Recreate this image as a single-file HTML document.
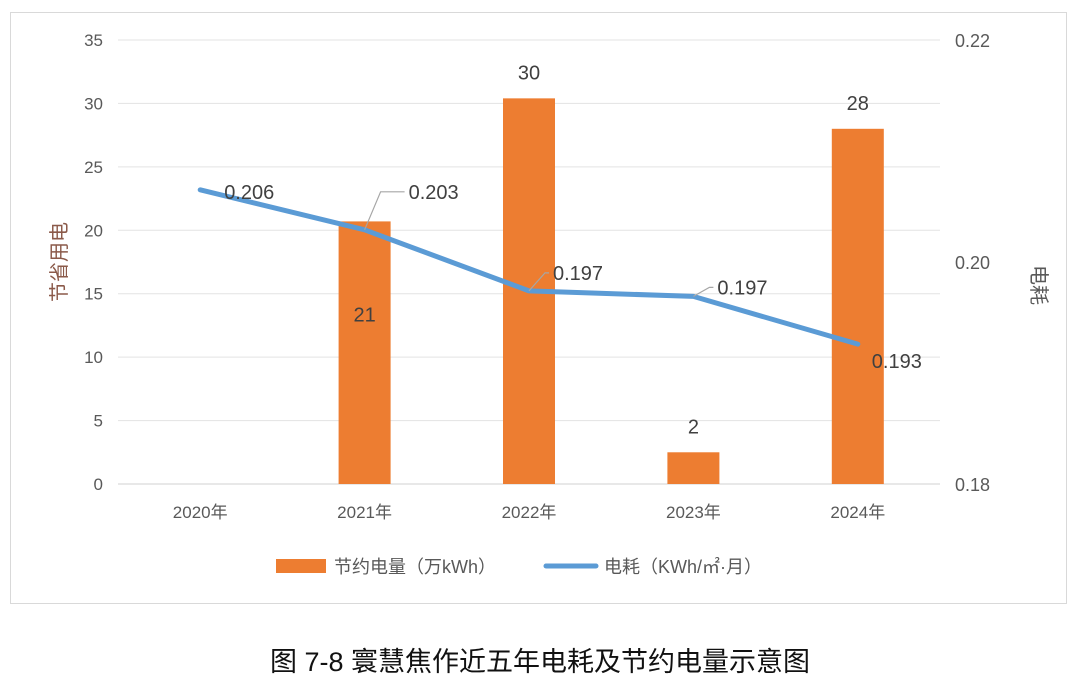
<!DOCTYPE html>
<html><head><meta charset="utf-8">
<style>
body{margin:0;background:#fff;width:1080px;height:692px;overflow:hidden;font-family:"Liberation Sans","Noto Sans CJK SC",sans-serif;}
#box{position:absolute;left:10px;top:12px;width:1055px;height:590px;border:1px solid #d9d9d9;}
#cap{position:absolute;left:0;top:640px;width:1080px;text-align:center;font-size:27px;color:#111;font-family:"Liberation Sans","Noto Sans CJK SC",sans-serif;}
</style></head><body>
<div id="box"></div>
<svg id="chart" width="1080" height="692" style="position:absolute;left:0;top:0"></svg>
<div id="cap">图 7-8  寰慧焦作近五年电耗及节约电量示意图</div>
<script>
const categories=["2020年","2021年","2022年","2023年","2024年"];
const savedPower=[0,20.7,30.4,2.5,28.0];
const savedLabels=["","21","30","2","28"];
const consumption=[0.2065,0.2029,0.1974,0.1969,0.1926];
const consumptionLabels=["0.206","0.203","0.197","0.197","0.193"];
const leftTicks=[0,5,10,15,20,25,30,35];
const rightTicks=["0.18","0.20","0.22"];
const NS="http://www.w3.org/2000/svg";
const svg=document.getElementById('chart');
const x0=118,x1=940,yb=484,yt=40;
const band=(x1-x0)/categories.length;
const xc=i=>x0+band*(i+0.5);
const yl=v=>yb-(v/35)*(yb-yt);
const yr=v=>yb-((v-0.18)/0.04)*(yb-yt);
function mk(t,a){const e=document.createElementNS(NS,t);for(const k in a)e.setAttribute(k,a[k]);svg.appendChild(e);return e;}
leftTicks.forEach(v=>{
 const g=mk('line',{x1:x0,x2:x1,y1:yl(v),y2:yl(v),stroke:v===0?'#d0d0d0':'#e3e3e3','stroke-width':1});
 
 
 const t=mk('text',{x:103,y:yl(v)+6,'text-anchor':'end','font-size':17,fill:'#595959'});t.textContent=v;
 
 
});
rightTicks.forEach(s=>{
 const t=mk('text',{x:955,y:yr(parseFloat(s))+7,'font-size':18,fill:'#595959'});t.textContent=s;
 
 
});
categories.forEach((c,i)=>{
 const t=mk('text',{x:xc(i),y:518,'text-anchor':'middle','font-size':17,fill:'#595959'});t.textContent=c;
 
 
});
savedPower.forEach((v,i)=>{
 if(v<=0)return;
 const r=mk('rect',{x:xc(i)-26,y:yl(v),width:52,height:yb-yl(v),fill:'#ed7d31'});
 
 
 const inside=i===1;
 const t=mk('text',{x:xc(i),y:inside?yl(v)+100:yl(v)-19,'text-anchor':'middle','font-size':20,fill:'#404040'});t.textContent=savedLabels[i];
 
 
});
const pts=consumption.map((v,i)=>[xc(i),yr(v)]);
const p=mk('polyline',{points:pts.map(q=>q.join(',')).join(' '),fill:'none',stroke:'#5b9bd5','stroke-width':5,'stroke-linecap':'round','stroke-linejoin':'round'});


const offs=[[24,-2,false],[44,-42,true],[24,-22,true],[24,-13,true],[14,13,false]];
pts.forEach((q,i)=>{
 const o=offs[i];
 if(o[2]){const l=mk('polyline',{points:`${q[0]},${q[1]} ${q[0]+16},${q[1]+o[1]+4} ${q[0]+o[0]-4},${q[1]+o[1]+4}`,fill:'none',stroke:'#a6a6a6','stroke-width':1.2});
  
  }
 const t=mk('text',{x:q[0]+o[0],y:q[1]+o[1]+11,'font-size':20,fill:'#404040'});t.textContent=consumptionLabels[i];
 
 
});
let t=mk('text',{x:0,y:0,'font-size':20,fill:'#8b5a4a',transform:'translate(66,262) rotate(-90)','text-anchor':'middle'});t.textContent='节省用电';


t=mk('text',{x:0,y:0,'font-size':20,fill:'#595959',transform:'translate(1032,285) rotate(90)','text-anchor':'middle'});t.textContent='电耗';


let r=mk('rect',{x:276,y:559,width:50,height:14,fill:'#ed7d31'});


t=mk('text',{x:334,y:573,'font-size':18,fill:'#595959'});t.textContent='节约电量（万kWh）';


r=mk('line',{x1:546,x2:596,y1:566,y2:566,stroke:'#5b9bd5','stroke-width':5,'stroke-linecap':'round'});


t=mk('text',{x:604,y:573,'font-size':18,fill:'#595959'});t.textContent='电耗（KWh/㎡·月）';


</script>
</body></html>
